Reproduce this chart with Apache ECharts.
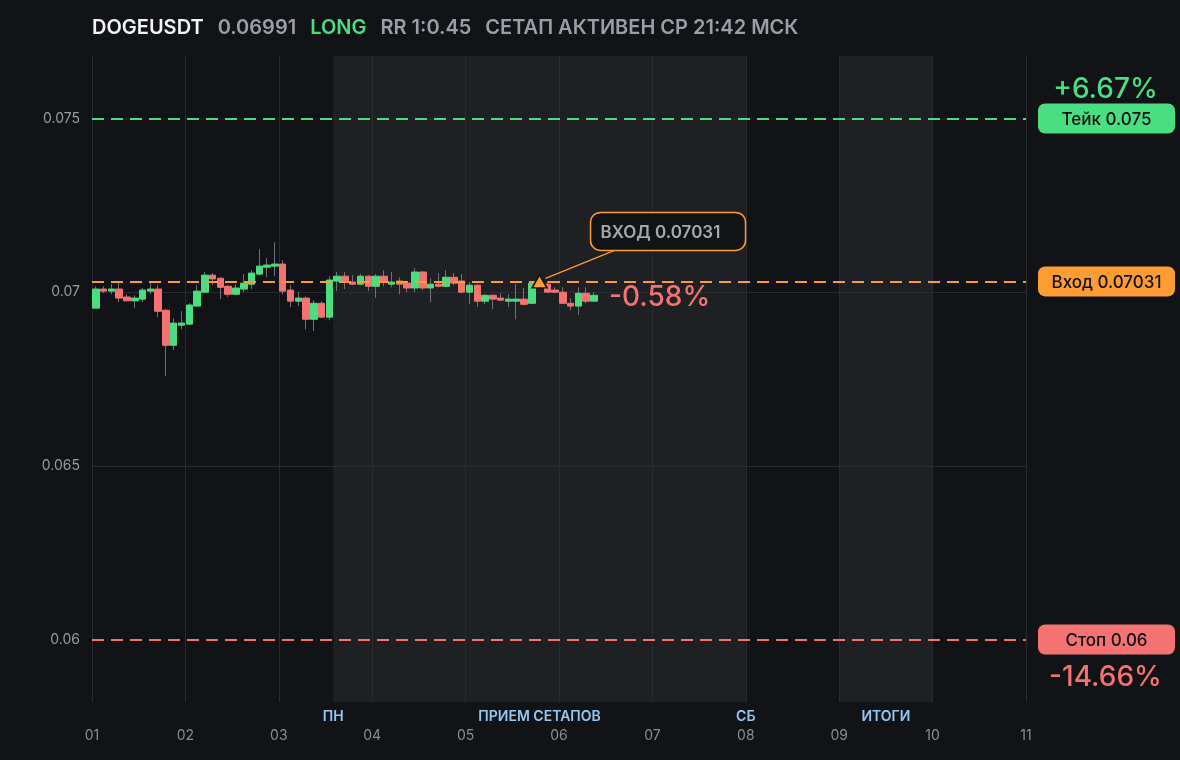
<!DOCTYPE html>
<html><head><meta charset="utf-8">
<script src="https://cdn.jsdelivr.net/npm/echarts@6/dist/echarts.min.js"></script>
<style>html,body{margin:0;padding:0;background:#121317;}#c{width:1180px;height:760px;}</style>
</head><body><div id="c"></div>
<script>
// ---- header ----
const tickerName = 'DOGEUSDT';
const lastPrice = 0.06991;
const sideText = 'LONG';
const rrText = 'RR 1:0.45';
const statusText = 'СЕТАП АКТИВЕН СР 21:42 МСК';

// ---- axes ----
const dayLabels = ['01','02','03','04','05','06','07','08','09','10','11'];
const yTicks = [0.06, 0.065, 0.07, 0.075];
const yMin = 0.0582, yMax = 0.0768;
const candleHours = 2;

// ---- levels ----
const levelNames = ['Тейк', 'Вход', 'Стоп'];
const levelPrices = [0.075, 0.07031, 0.06];
const levelPcts = ['+6.67%', '', '-14.66%'];
const levelColors = ['#4ade80', '#fd9c33', '#f47272'];
const entryCandle = 57;
const entryNote = 'ВХОД 0.07031';
const pnlText = '-0.58%';

// ---- session bands (in days from 01) ----
const bandStarts = [2 + 14 / 24, 8];
const bandEnds = [7, 9];
const bandNotes = ['ПН', 'ПРИЕМ СЕТАПОВ', 'СБ', 'ИТОГИ'];
const bandNoteAt = [2 + 14 / 24, (2 + 14 / 24 + 7) / 2, 7, 8.5];

// ---- 2h candles: [open, close, low, high] ----
const ohlc = [
  [0.06954, 0.07009, 0.06954, 0.07017],
  [0.07009, 0.07003, 0.06997, 0.07017],
  [0.07003, 0.07009, 0.06994, 0.07023],
  [0.07009, 0.06983, 0.06971, 0.07026],
  [0.06986, 0.06975, 0.06975, 0.06994],
  [0.06975, 0.06983, 0.06954, 0.06991],
  [0.06980, 0.07006, 0.06971, 0.07012],
  [0.07003, 0.07009, 0.06994, 0.07026],
  [0.07009, 0.06945, 0.06928, 0.07020],
  [0.06948, 0.06847, 0.06758, 0.06951],
  [0.06847, 0.06911, 0.06833, 0.06925],
  [0.06905, 0.06911, 0.06893, 0.06945],
  [0.06908, 0.06963, 0.06905, 0.06968],
  [0.06960, 0.07003, 0.06957, 0.07020],
  [0.07000, 0.07049, 0.06997, 0.07058],
  [0.07049, 0.07038, 0.07020, 0.07055],
  [0.07040, 0.07014, 0.06980, 0.07043],
  [0.07017, 0.06994, 0.06986, 0.07020],
  [0.06994, 0.07012, 0.06991, 0.07023],
  [0.07009, 0.07026, 0.07000, 0.07052],
  [0.07023, 0.07055, 0.07009, 0.07063],
  [0.07052, 0.07075, 0.07049, 0.07124],
  [0.07072, 0.07078, 0.07043, 0.07098],
  [0.07075, 0.07081, 0.07046, 0.07144],
  [0.07081, 0.07003, 0.06994, 0.07092],
  [0.07006, 0.06974, 0.06957, 0.07020],
  [0.06974, 0.06983, 0.06960, 0.07000],
  [0.06983, 0.06922, 0.06893, 0.06988],
  [0.06922, 0.06968, 0.06888, 0.06977],
  [0.06968, 0.06928, 0.06925, 0.06974],
  [0.06928, 0.07035, 0.06919, 0.07046],
  [0.07032, 0.07046, 0.07003, 0.07058],
  [0.07046, 0.07029, 0.07009, 0.07058],
  [0.07029, 0.07023, 0.07020, 0.07049],
  [0.07023, 0.07046, 0.07020, 0.07052],
  [0.07046, 0.07017, 0.07003, 0.07049],
  [0.07017, 0.07046, 0.06983, 0.07052],
  [0.07046, 0.07029, 0.07017, 0.07063],
  [0.07023, 0.07029, 0.07014, 0.07058],
  [0.07032, 0.07023, 0.06994, 0.07043],
  [0.07026, 0.07012, 0.07000, 0.07029],
  [0.07012, 0.07058, 0.07000, 0.07069],
  [0.07058, 0.07012, 0.07006, 0.07061],
  [0.07012, 0.07023, 0.06971, 0.07040],
  [0.07023, 0.07017, 0.07014, 0.07055],
  [0.07017, 0.07043, 0.07014, 0.07063],
  [0.07043, 0.07026, 0.07020, 0.07055],
  [0.07032, 0.07000, 0.06997, 0.07052],
  [0.07000, 0.07020, 0.06965, 0.07029],
  [0.07020, 0.06974, 0.06957, 0.07023],
  [0.06974, 0.06991, 0.06965, 0.06994],
  [0.06991, 0.06980, 0.06951, 0.06994],
  [0.06983, 0.06977, 0.06974, 0.06997],
  [0.06974, 0.06980, 0.06957, 0.06994],
  [0.06974, 0.06980, 0.06922, 0.07023],
  [0.06980, 0.06965, 0.06962, 0.07012],
  [0.06968, 0.07026, 0.06965, 0.07032],
  [0.07029, 0.07023, 0.07014, 0.07035],
  [0.07023, 0.07000, 0.07000, 0.07032],
  [0.07006, 0.07000, 0.06997, 0.07014],
  [0.07000, 0.06968, 0.06968, 0.07014],
  [0.06968, 0.06960, 0.06948, 0.06983],
  [0.06960, 0.06997, 0.06934, 0.07014],
  [0.06997, 0.06974, 0.06968, 0.07014],
  [0.06974, 0.06991, 0.06974, 0.07000]
];

const GREEN = '#4ade80', RED = '#f47272', WICK = '#6f727a', BG = '#121317';
const FONT = 'Inter, "Noto Sans", sans-serif';

const xOf = i => (i * candleHours + candleHours / 2) / 24;
const wickData = ohlc.map((d, i) => [xOf(i), d[0], d[1], d[2], d[3]]);
const bodyData = ohlc.map((d, i) => [xOf(i), d[0], d[1], Math.min(d[0], d[1]), Math.max(d[0], d[1])]);
const closeData = ohlc.map((d, i) => [xOf(i), d[1]]);

const hiddenLine = {type: 'line', silent: true, symbol: 'none', showSymbol: false,
  lineStyle: {opacity: 0, width: 0}, itemStyle: {opacity: 0}, data: closeData, tooltip: {show: false}};

const chart = echarts.init(document.getElementById('c'), null, {renderer: 'canvas'});

const option = {
  backgroundColor: BG,
  animation: false,
  grid: {left: 92, right: 154, top: 56, bottom: 58},
  xAxis: {
    type: 'value', min: 0, max: dayLabels.length - 1, interval: 1, z: 1,
    axisLine: {show: false}, axisTick: {show: false},
    splitLine: {show: true, lineStyle: {color: '#2a2b30', width: 1}},
    axisLabel: {color: '#8b8e95', fontSize: 14, fontFamily: FONT, margin: 27,
      formatter: v => dayLabels[Math.round(v)] || ''}
  },
  yAxis: {
    type: 'value', min: yMin, max: yMax, scale: true,
    axisLine: {show: false}, axisTick: {show: false},
    splitLine: {show: false},
    axisLabel: {customValues: yTicks, color: '#9a9ca3', fontSize: 14, fontFamily: FONT, margin: 12,
      formatter: v => String(+v.toFixed(4))}
  },
  series: [
    Object.assign({}, hiddenLine, {
      z: 0,
      markArea: {
        silent: true, z: 0,
        itemStyle: {color: '#1f2024'},
        data: bandStarts.map((s, k) => [{xAxis: s}, {xAxis: bandEnds[k]}])
      },
      markLine: {
        silent: true, symbol: 'none', z: 1, precision: 6, label: {show: false},
        lineStyle: {color: '#2a2b30', type: 'solid', width: 1},
        data: yTicks.filter(v => !levelPrices.includes(v)).map(v => ({yAxis: v}))
      }
    }),
    {
      type: 'candlestick', name: 'wick', z: 2, silent: true,
      encode: {x: 0, y: [1, 2, 3, 4]},
      barWidth: 1,
      itemStyle: {color: WICK, color0: WICK, borderColor: WICK, borderColor0: WICK, borderWidth: 1},
      data: wickData
    },
    {
      type: 'candlestick', name: 'body', z: 3, silent: true,
      encode: {x: 0, y: [1, 2, 3, 4]},
      barWidth: 7,
      itemStyle: {color: GREEN, color0: RED, borderColor: GREEN, borderColor0: RED, borderWidth: 1},
      data: bodyData,
      markPoint: {
        silent: true, z: 6,
        data: [{coord: [xOf(entryCandle), levelPrices[1]], symbol: 'triangle', symbolSize: [15, 13],
          itemStyle: {color: levelColors[1], borderColor: BG, borderWidth: 1.5}, label: {show: false}}]
      }
    },
    Object.assign({}, hiddenLine, {
      z: 5,
      markLine: {
        silent: true, symbol: 'none', z: 5, precision: 6, label: {show: false},
        data: levelPrices.map((p, k) => ({yAxis: p, lineStyle: {color: levelColors[k], type: [12, 7], width: 2}}))
      }
    })
  ]
};
chart.setOption(option);

// ---- overlay texts positioned through the chart's own coordinate conversion ----
const px = (x, y) => chart.convertToPixel({gridIndex: 0}, [x, y]);
const gRight = px(dayLabels.length - 1, yMin)[0];
const gBottom = px(0, yMin)[1];
const graphics = [];

graphics.push({
  type: 'text', left: 92, top: 18,
  style: {
    text: '{a|' + tickerName + '}{b|' + lastPrice + '}{c|' + sideText + '}{b|' + rrText + '}{d|' + statusText + '}',
    rich: {
      a: {fill: '#f3f4f6', font: '600 20px ' + FONT, padding: [0, 14, 0, 0]},
      b: {fill: '#9a9ea6', font: '600 20px ' + FONT, padding: [0, 14, 0, 0]},
      c: {fill: GREEN, font: '600 20px ' + FONT, padding: [0, 14, 0, 0]},
      d: {fill: '#9a9ea6', font: '600 20px ' + FONT}
    }
  }
});

levelPrices.forEach((p, k) => {
  const y = px(0, p)[1];
  const bx = gRight + 12, bw = 137, bh = 30;
  graphics.push({type: 'rect', shape: {x: bx, y: y - bh / 2, width: bw, height: bh, r: 7}, style: {fill: levelColors[k]}, z: 10});
  graphics.push({type: 'text', x: bx + bw / 2, y: y + 1, z: 11,
    style: {text: levelNames[k] + ' ' + p, fill: '#111214', font: '500 17px ' + FONT, align: 'center', verticalAlign: 'middle'}});
  if (levelPcts[k]) {
    const above = k === 0;
    graphics.push({type: 'text', x: bx + bw / 2 - 1, y: above ? y - 29 : y + 38, z: 11,
      style: {text: levelPcts[k], fill: levelColors[k], font: '500 28px ' + FONT, align: 'center', verticalAlign: 'middle'}});
  }
});

// entry annotation
const ep = px(xOf(entryCandle), levelPrices[1]);
graphics.push({type: 'line', shape: {x1: ep[0] + 6, y1: ep[1] - 3, x2: ep[0] + 75, y2: ep[1] - 31},
  style: {stroke: levelColors[1], lineWidth: 1.2}, z: 9});
graphics.push({type: 'rect', shape: {x: ep[0] + 51, y: ep[1] - 69, width: 155, height: 38, r: 10},
  style: {fill: BG, stroke: levelColors[1], lineWidth: 1.5}, z: 10});
graphics.push({type: 'text', x: ep[0] + 61, y: ep[1] - 49, z: 11,
  style: {text: entryNote, fill: '#a5a8af', font: '600 17px ' + FONT, align: 'left', verticalAlign: 'middle'}});

// pnl
const lp = px(xOf(ohlc.length - 1), lastPrice);
graphics.push({type: 'text', x: lp[0] + 15, y: lp[1] + 2, z: 11,
  style: {text: pnlText, fill: RED, font: '500 28px ' + FONT, align: 'left', verticalAlign: 'middle'}});

// band notes
bandNotes.forEach((t, k) => {
  const x = px(bandNoteAt[k], yMin)[0];
  graphics.push({type: 'text', x: x, y: gBottom + 15, z: 11,
    style: {text: t, fill: '#93c8f5', font: '600 14px ' + FONT, align: 'center', verticalAlign: 'middle'}});
});

chart.setOption({graphic: graphics});
</script>
</body></html>
